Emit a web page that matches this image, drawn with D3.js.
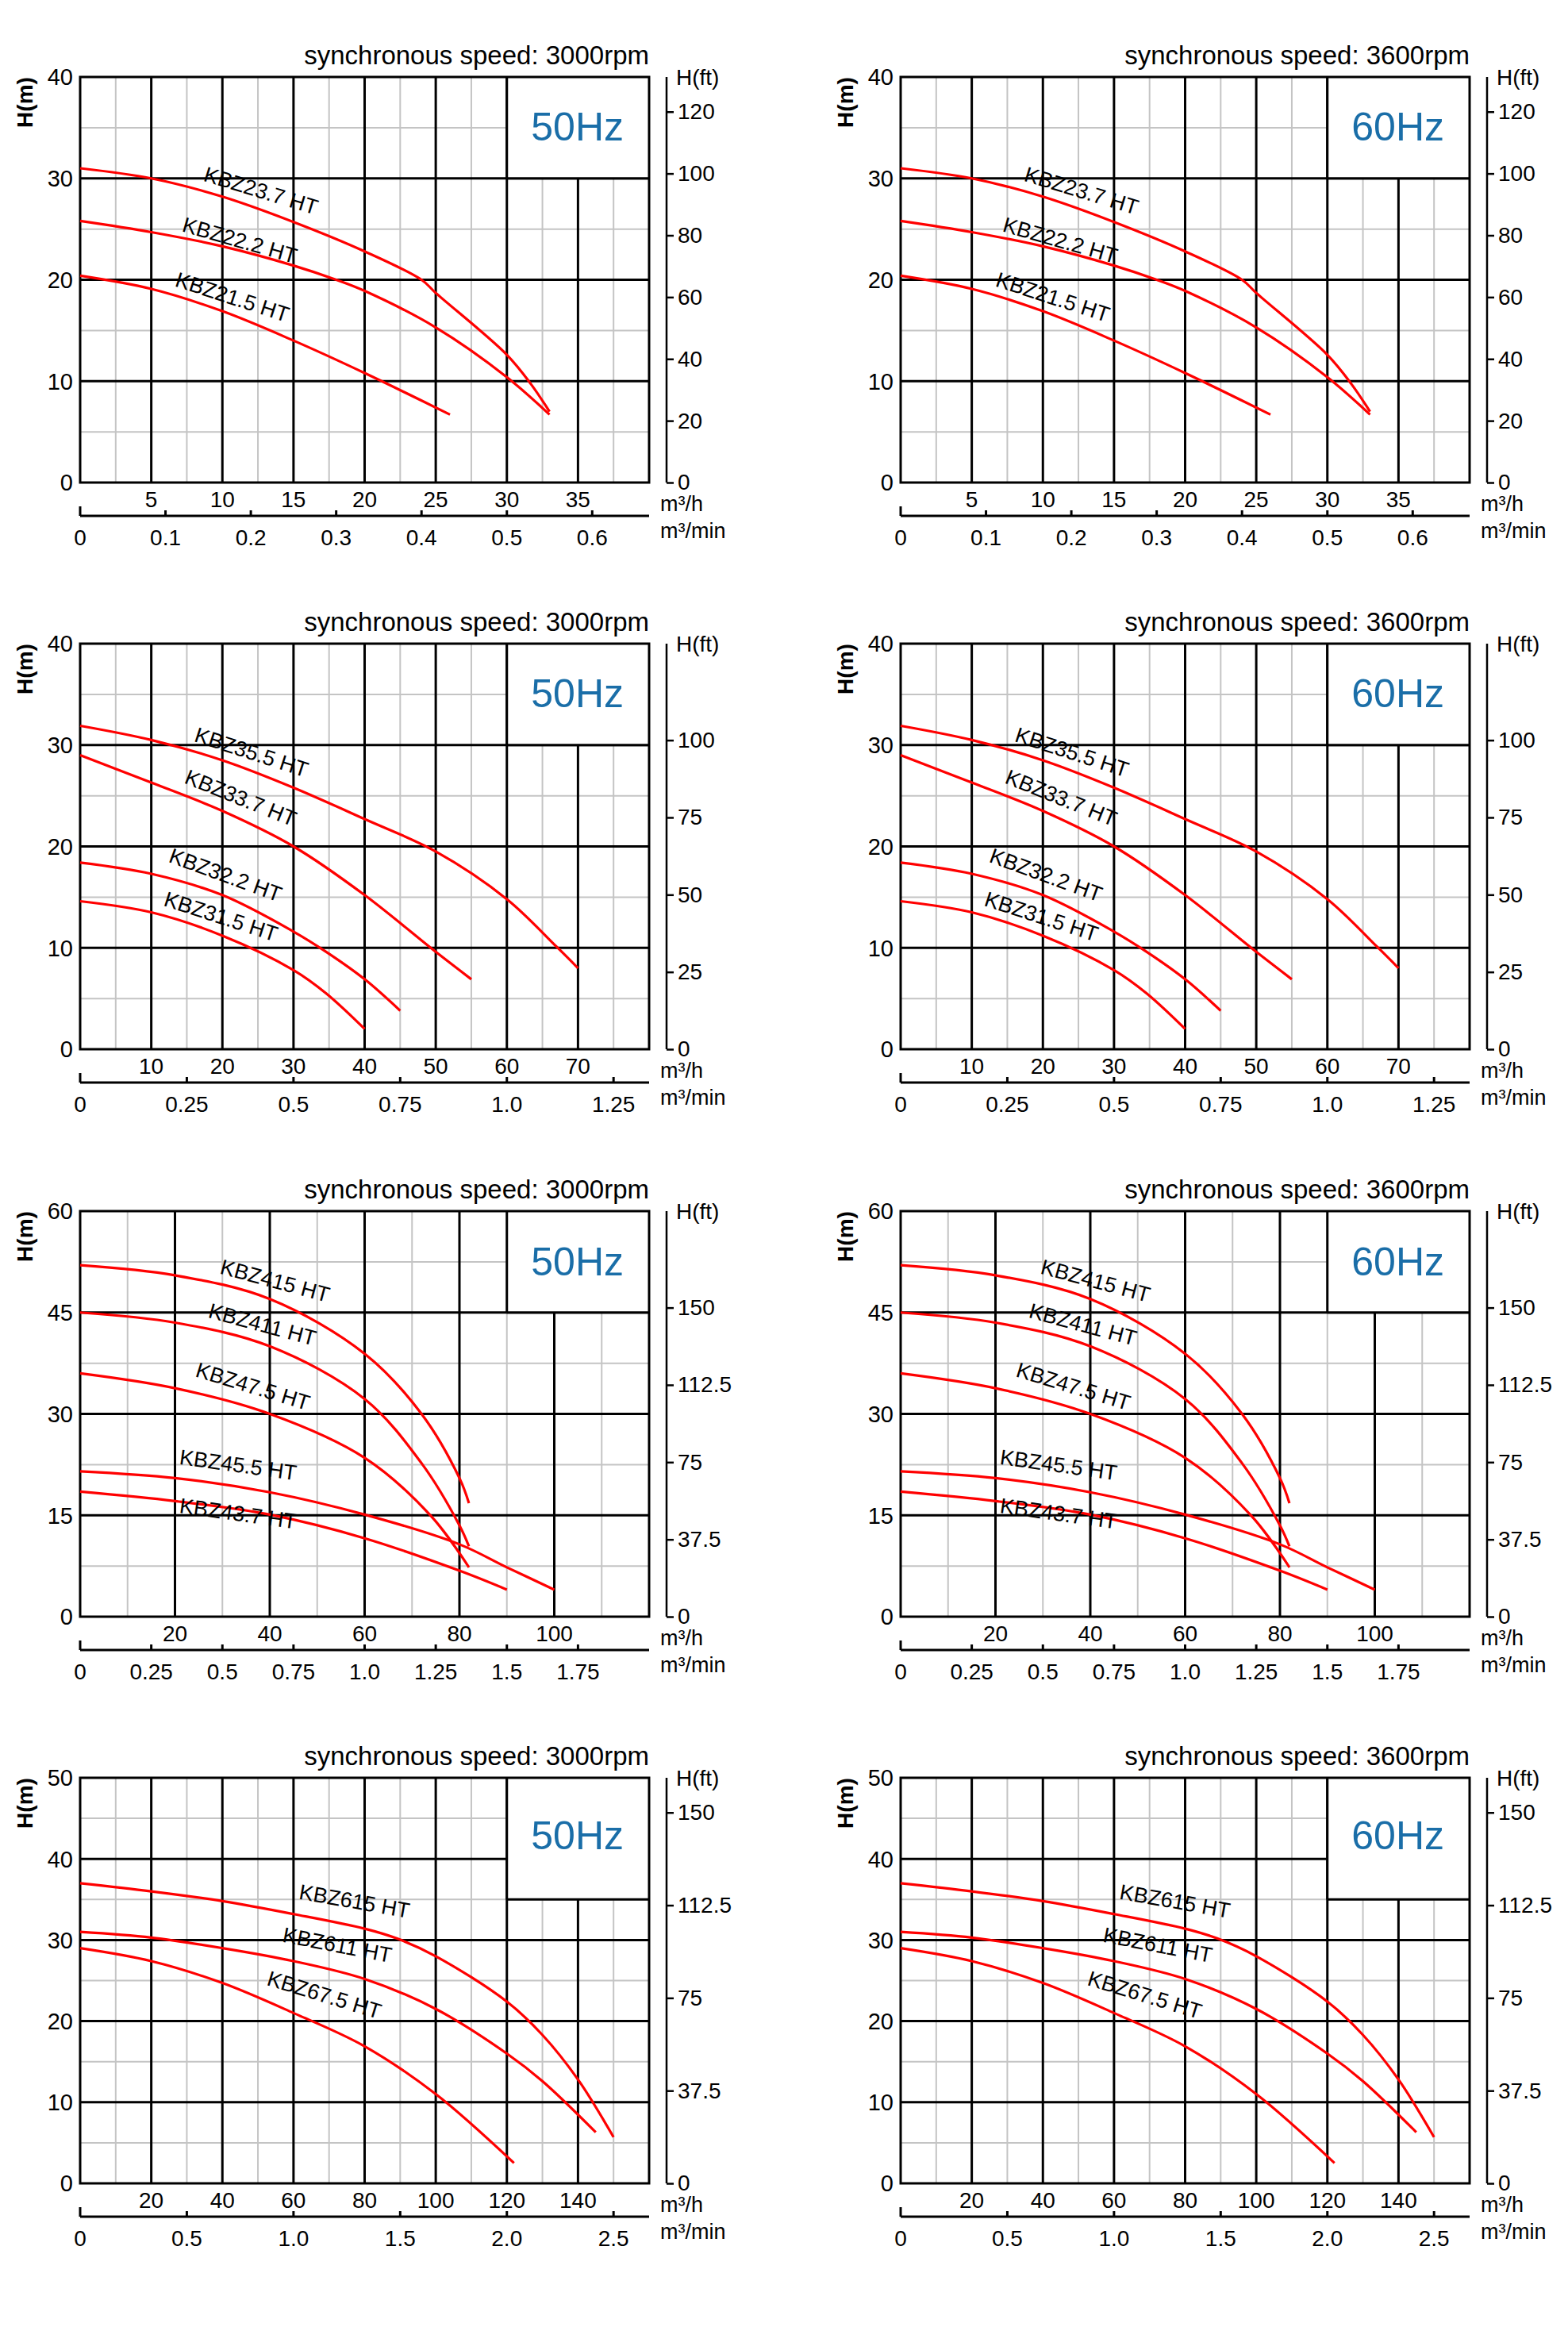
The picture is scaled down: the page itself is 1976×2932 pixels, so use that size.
<!DOCTYPE html>
<html lang="en">
<head>
<meta charset="UTF-8">
<title>KBZ pump curves</title>
<script src="https://d3js.org/d3.v7.min.js"></script>
<style>
  body { margin: 0; background: #fff; }
  text { font-family: "Liberation Sans", Arial, sans-serif; fill: #000; }
</style>
</head>
<body>
<svg id="chart" width="1976" height="2932"></svg>
<script>
// ---- data: flow in m3/h, head in m ----
const rowTops = [97, 811, 1526, 2240];
const colLefts = [101, 1135];
const speeds = ['3000rpm', '3600rpm'];
const freqs = ['50Hz', '60Hz'];

const xMaxes = [40, 80, 120, 160];
const xMajors = [5, 10, 20, 20];
const yMaxes = [40, 40, 60, 50];
const yMajors = [10, 10, 15, 10];
const flowTicks = [
  [5, 10, 15, 20, 25, 30, 35],
  [10, 20, 30, 40, 50, 60, 70],
  [20, 40, 60, 80, 100],
  [20, 40, 60, 80, 100, 120, 140]
];
const minTicks = [
  [0, 0.1, 0.2, 0.3, 0.4, 0.5, 0.6],
  [0, 0.25, 0.5, 0.75, 1.0, 1.25],
  [0, 0.25, 0.5, 0.75, 1.0, 1.25, 1.5, 1.75],
  [0, 0.5, 1.0, 1.5, 2.0, 2.5]
];
const minFormats = [
  ['0', '0.1', '0.2', '0.3', '0.4', '0.5', '0.6'],
  ['0', '0.25', '0.5', '0.75', '1.0', '1.25'],
  ['0', '0.25', '0.5', '0.75', '1.0', '1.25', '1.5', '1.75'],
  ['0', '0.5', '1.0', '1.5', '2.0', '2.5']
];
const ftTicks = [
  [0, 20, 40, 60, 80, 100, 120],
  [0, 25, 50, 75, 100],
  [0, 37.5, 75, 112.5, 150],
  [0, 37.5, 75, 112.5, 150]
];
// blank box behind the frequency label: [x0, y0]
const boxes = [[30, 30], [60, 30], [90, 45], [120, 35]];
const hzBaseline = [80, 80, 81, 90];

const curves = [
  [
    { name: 'KBZ23.7 HT', pts: [[0,31],[5,30],[10,28.2],[15,25.7],[20,22.8],[24,20],[25,18.7],[30,12.6],[31.7,9.7],[33,7]],
      label: [8.6, 29.4, 17] },
    { name: 'KBZ22.2 HT', pts: [[0,25.8],[5,24.7],[10,23.3],[15,21.4],[18,20],[20,18.9],[25,15.3],[30,10.4],[33,6.7]],
      label: [7.1, 24.4, 16] },
    { name: 'KBZ21.5 HT', pts: [[0,20.4],[5,19.1],[10,16.9],[15,14],[20,10.8],[26,6.7]],
      label: [6.6, 19.0, 18] }
  ],
  [
    { name: 'KBZ35.5 HT', pts: [[0,31.9],[10,30.5],[20,28.5],[30,25.8],[40,22.7],[50,19.5],[60,14.8],[67,10.1],[70,8]],
      label: [15.9, 30.0, 18] },
    { name: 'KBZ33.7 HT', pts: [[0,29],[10,26.3],[20,23.5],[30,20],[40,15.2],[50,9.6],[55,6.9]],
      label: [14.5, 25.9, 22] },
    { name: 'KBZ32.2 HT', pts: [[0,18.4],[10,17.3],[20,15.2],[30,11.6],[34.6,9.6],[40,6.9],[45,3.8]],
      label: [12.3, 18.1, 20] },
    { name: 'KBZ31.5 HT', pts: [[0,14.6],[10,13.5],[20,11.2],[30,7.8],[34.6,5.5],[40,2]],
      label: [11.6, 13.8, 18] }
  ],
  [
    { name: 'KBZ415 HT', pts: [[0,52],[20,50.5],[40,47],[60,38.9],[72,30],[80,20.5],[82,16.8]],
      label: [29.3, 50.2, 15] },
    { name: 'KBZ411 HT', pts: [[0,45],[20,43.5],[40,40],[60,32.2],[72,22.7],[80,13.5],[82,10.4]],
      label: [26.8, 43.7, 15] },
    { name: 'KBZ47.5 HT', pts: [[0,36],[20,33.8],[40,30],[60,23.5],[74,14.9],[82,7.3]],
      label: [24.1, 35.0, 17] },
    { name: 'KBZ45.5 HT', pts: [[0,21.5],[20,20.5],[40,18.4],[60,15.1],[80,10.7],[90,7.3],[100,4]],
      label: [20.8, 22.0, 8] },
    { name: 'KBZ43.7 HT', pts: [[0,18.5],[20,17.1],[40,15.1],[60,11.6],[80,6.8],[90,4]],
      label: [20.8, 14.8, 8] }
  ],
  [
    { name: 'KBZ615 HT', pts: [[0,37],[20,36],[40,34.8],[60,33.2],[80,31.4],[89,30.2],[100,28],[120,22.4],[130,18.3],[140,12.8],[150,5.7]],
      label: [61.3, 34.6, 10] },
    { name: 'KBZ611 HT', pts: [[0,31],[20,30.3],[40,29],[60,27.4],[80,25.2],[100,21.5],[120,16],[130,12.6],[145,6.3]],
      label: [56.7, 29.3, 11] },
    { name: 'KBZ67.5 HT', pts: [[0,29],[20,27.4],[40,24.7],[60,21],[80,16.9],[100,11],[122,2.5]],
      label: [52.2, 24.0, 17] }
  ]
];

// ---- drawing ----
const W = 717, H = 511;
const svg = d3.select('#chart');

function drawPanel(row, col) {
  const left = colLefts[col], top = rowTops[row];
  const xMax = xMaxes[row], yMax = yMaxes[row];
  const x = d3.scaleLinear().domain([0, xMax]).range([0, W]);
  const y = d3.scaleLinear().domain([0, yMax]).range([H, 0]);
  const g = svg.append('g').attr('transform', `translate(${left},${top})`);
  const [bx, by] = boxes[row];

  // grid
  const xMinorVals = d3.range(xMajors[row] / 2, xMax, xMajors[row]);
  const yMinorVals = d3.range(yMajors[row] / 2, yMax, yMajors[row]);
  const xMajorVals = d3.range(xMajors[row], xMax, xMajors[row]);
  const yMajorVals = d3.range(yMajors[row], yMax, yMajors[row]);

  g.selectAll('.vmin').data(xMinorVals).join('line')
    .attr('x1', x).attr('x2', x).attr('y1', 0).attr('y2', H)
    .attr('stroke', '#c4c4c4').attr('stroke-width', 2);
  g.selectAll('.hmin').data(yMinorVals).join('line')
    .attr('x1', 0).attr('x2', W).attr('y1', y).attr('y2', y)
    .attr('stroke', '#c4c4c4').attr('stroke-width', 2);
  g.selectAll('.vmaj').data(xMajorVals).join('line')
    .attr('x1', x).attr('x2', x).attr('y1', 0).attr('y2', H)
    .attr('stroke', '#000').attr('stroke-width', 3);
  g.selectAll('.hmaj').data(yMajorVals).join('line')
    .attr('x1', 0).attr('x2', W).attr('y1', y).attr('y2', y)
    .attr('stroke', '#000').attr('stroke-width', 3);

  // blank box for the frequency label
  g.append('rect').attr('x', x(bx)).attr('y', 0)
    .attr('width', W - x(bx)).attr('height', y(by)).attr('fill', '#fff');
  g.append('line').attr('x1', x(bx)).attr('x2', x(bx)).attr('y1', 0).attr('y2', y(by))
    .attr('stroke', '#000').attr('stroke-width', 3);
  g.append('line').attr('x1', x(bx)).attr('x2', W).attr('y1', y(by)).attr('y2', y(by))
    .attr('stroke', '#000').attr('stroke-width', 3);

  g.append('rect').attr('width', W).attr('height', H)
    .attr('fill', 'none').attr('stroke', '#000').attr('stroke-width', 3);

  // curves
  const line = d3.line().x(d => x(d[0])).y(d => y(d[1])).curve(d3.curveCatmullRom.alpha(0.5));
  curves[row].forEach(c => {
    g.append('path').attr('d', line(c.pts))
      .attr('fill', 'none').attr('stroke', '#ff0000').attr('stroke-width', 3.2);
    const [lq, lh, ang] = c.label;
    g.append('text')
      .attr('transform', `translate(${x(lq)},${y(lh) - 5}) rotate(${ang})`)
      .attr('font-size', 27).text(c.name);
  });

  // left axis
  g.selectAll('.yl').data(d3.range(0, yMax + 0.001, yMajors[row])).join('text')
    .attr('x', -9).attr('y', d => y(d)).attr('dy', '0.36em')
    .attr('text-anchor', 'end').attr('font-size', 29).text(d => d);
  g.append('text').attr('transform', `translate(${-70},${32}) rotate(-90)`)
    .attr('text-anchor', 'middle').attr('dy', '0.36em')
    .attr('font-size', 28).attr('font-weight', 'bold').text('H(m)');

  // right axis in feet
  const yFt = d3.scaleLinear().domain([0, yMax / 0.3048]).range([H, 0]);
  g.append('g').attr('transform', `translate(${W + 22},0)`)
    .call(d3.axisRight(yFt).tickValues(ftTicks[row]).tickSize(9).tickPadding(5).tickFormat(d => d))
    .call(a => a.select('.domain').attr('d', `M0,${H}V0`).attr('stroke-width', 2.5))
    .call(a => a.selectAll('.tick line').attr('stroke-width', 2.5))
    .call(a => a.selectAll('text').attr('font-size', 28).attr('font-family', '"Liberation Sans", Arial, sans-serif'));
  g.append('text').attr('x', W + 34).attr('y', 0).attr('dy', '0.36em')
    .attr('font-size', 28).text('H(ft)');

  // flow in m3/h
  g.selectAll('.xl').data(flowTicks[row]).join('text')
    .attr('x', x).attr('y', H + 31).attr('text-anchor', 'middle')
    .attr('font-size', 28).text(d => d);
  g.append('text').attr('x', W + 14).attr('y', H + 36).attr('font-size', 27).text('m³/h');

  // flow in m3/min
  const xMin = d3.scaleLinear().domain([0, xMax / 60]).range([0, W]);
  const sec = g.append('g').attr('transform', `translate(0,${H + 42})`);
  sec.append('line').attr('x1', 0).attr('x2', W).attr('stroke', '#000').attr('stroke-width', 3);
  sec.selectAll('.st').data(minTicks[row]).join('line')
    .attr('x1', xMin).attr('x2', xMin).attr('y1', 0).attr('y2', d => d === 0 ? -12 : -7)
    .attr('stroke', '#000').attr('stroke-width', 3);
  sec.selectAll('.sl').data(minTicks[row]).join('text')
    .attr('x', xMin).attr('y', 37).attr('text-anchor', 'middle')
    .attr('font-size', 28).text((d, i) => minFormats[row][i]);
  g.append('text').attr('x', W + 14).attr('y', H + 70).attr('font-size', 27).text('m³/min');

  // titles
  g.append('text').attr('x', W).attr('y', -16).attr('text-anchor', 'end')
    .attr('font-size', 33).text('synchronous speed: ' + speeds[col]);
  g.append('text').attr('x', W - 32).attr('y', hzBaseline[row]).attr('text-anchor', 'end')
    .attr('font-size', 50).style('fill', '#1a6ea8').text(freqs[col]);
}

for (let r = 0; r < 4; r++) {
  for (let c = 0; c < 2; c++) drawPanel(r, c);
}
</script>
</body>
</html>
